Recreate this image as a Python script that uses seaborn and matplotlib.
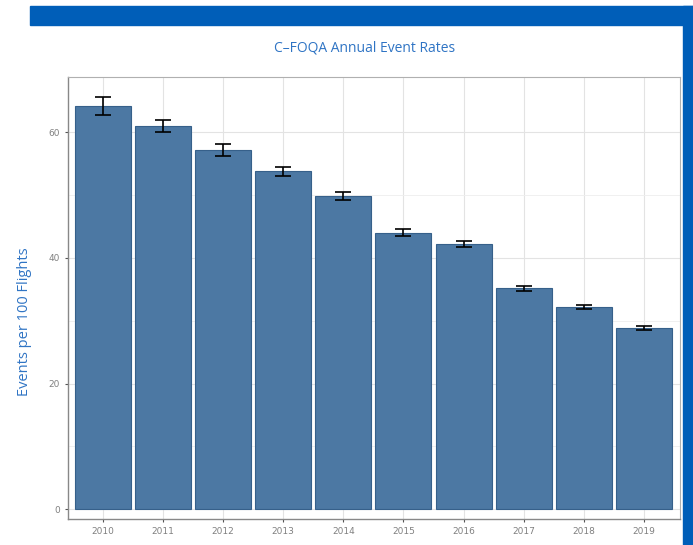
import numpy as np
import pandas as pd
import matplotlib
matplotlib.use("Agg")
import matplotlib.pyplot as plt
import seaborn as sns
from matplotlib.patches import Rectangle
from matplotlib.ticker import MultipleLocator

# Data
years = ["2010", "2011", "2012", "2013", "2014", "2015", "2016", "2017", "2018", "2019"]
rates = [64.2, 61.05, 57.2, 53.8, 49.9, 44.0, 42.2, 35.2, 32.2, 28.8]
err_low = [62.8, 60.0, 56.3, 53.0, 49.2, 43.55, 41.7, 34.7, 31.8, 28.5]
err_high = [65.6, 62.0, 58.1, 54.5, 50.55, 44.6, 42.7, 35.6, 32.5, 29.1]

df = pd.DataFrame({"Year": years, "Rate": rates})

sns.set_style("white")
bar_color = "#4c78a3"
title_blue = "#2f74c4"

fig = plt.figure(figsize=(6.93, 5.45), dpi=100)
ax = fig.add_axes([0.0981, 0.0477, 0.8831, 0.811])

# blue frame around the slide
fig.patches.append(Rectangle((30 / 693, 1 - 25 / 545), 663 / 693, 19 / 545,
                             transform=fig.transFigure, color="#005eb8", zorder=0))
fig.patches.append(Rectangle((683 / 693, 0), 10 / 693, 1 - 6 / 545,
                             transform=fig.transFigure, color="#005eb8", zorder=0))

sns.barplot(data=df, x="Year", y="Rate", color=bar_color, width=0.93,
            edgecolor="#36608a", linewidth=0.8, saturation=1, ax=ax, zorder=3)

rates_arr = np.array(rates)
yerr = [rates_arr - np.array(err_low), np.array(err_high) - rates_arr]
ax.errorbar(x=np.arange(len(years)), y=rates, yerr=yerr, fmt="none",
            ecolor="black", elinewidth=1.2, capsize=5.5, capthick=1.2, zorder=4)

ax.set_xlim(-0.58, len(years) - 1 + 0.6)
ax.set_ylim(-1.55, 68.8)
ax.yaxis.set_major_locator(MultipleLocator(20))
ax.yaxis.set_minor_locator(MultipleLocator(10))
ax.grid(True, which="major", color="#e3e3e3", linewidth=0.8, zorder=0)
ax.grid(True, which="minor", axis="y", color="#eeeeee", linewidth=0.6, zorder=0)
ax.set_axisbelow(True)

for side in ["top", "right"]:
    ax.spines[side].set_color("#b0b0b0")
    ax.spines[side].set_linewidth(0.8)
for side in ["left", "bottom"]:
    ax.spines[side].set_color("#888888")
    ax.spines[side].set_linewidth(1.0)

ax.tick_params(axis="both", which="major", labelsize=6.5, labelcolor="#808080",
               length=2.5, width=0.8, color="#555555", bottom=True, left=True)
ax.tick_params(axis="y", which="minor", length=0)

ax.set_xlabel("")
ax.set_ylabel("")
fig.text(365 / 693, 1 - 48 / 545, "C\u2013FOQA Annual Event Rates", ha="center", va="center",
         fontsize=10, color=title_blue, family=["Open Sans", "DejaVu Sans"])
fig.text(25 / 693, 1 - 322 / 545, "Events per 100 Flights", ha="center", va="center",
         rotation=90, fontsize=10.5, color=title_blue, family=["Open Sans", "DejaVu Sans"])

fig.savefig("out.png", dpi=100)
